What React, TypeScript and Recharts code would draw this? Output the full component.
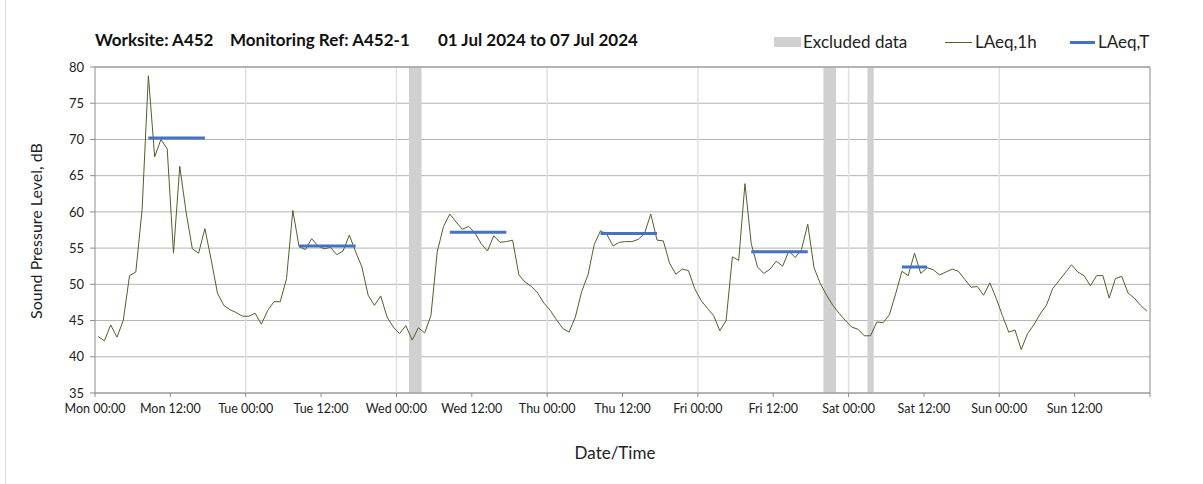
import React from "react";
import {
  ComposedChart,
  Line,
  XAxis,
  YAxis,
  CartesianGrid,
  ReferenceArea,
  ReferenceLine,
} from "recharts";

// hourly LAeq,1h values, Mon 00:00 .. Sun 23:00 (plotted at the middle of each hour)
const laeq1h = [
  42.8, 42.2, 44.4, 42.7, 45.0, 51.2, 51.7, 60.3, 78.8, 67.6, 70.0, 68.7, 54.3, 66.3, 60.0, 54.9, 54.3, 57.7, 53.4, 48.8, 47.1, 46.5, 46.1, 45.6,
  45.6, 46.0, 44.5, 46.4, 47.6, 47.6, 50.8, 60.2, 55.2, 54.8, 56.3, 55.3, 54.9, 55.1, 54.1, 54.6, 56.8, 54.5, 52.4, 48.5, 47.1, 48.4, 45.5, 44.1,
  43.2, 44.3, 42.3, 44.0, 43.3, 45.7, 54.5, 58.0, 59.7, 58.6, 57.6, 58.0, 57.1, 55.6, 54.6, 56.7, 55.8, 55.9, 56.1, 51.3, 50.3, 49.7, 48.8, 47.4,
  46.4, 45.1, 43.9, 43.4, 45.5, 49.0, 51.3, 55.5, 57.4, 56.9, 55.3, 55.8, 55.9, 55.9, 56.2, 57.0, 59.7, 56.1, 56.0, 52.9, 51.4, 52.1, 51.9, 49.4,
  47.8, 46.7, 45.7, 43.6, 45.0, 53.8, 53.3, 63.9, 55.6, 52.4, 51.5, 52.1, 53.2, 52.5, 54.6, 53.7, 54.8, 58.3, 52.3, 50.1, 48.5, 47.1, 46.0, 45.0,
  44.1, 43.8, 42.9, 42.9, 44.8, 44.7, 45.8, 48.7, 51.8, 51.2, 54.3, 51.5, 52.3, 52.0, 51.3, 51.7, 52.1, 51.8, 50.7, 49.6, 49.7, 48.5, 50.2, 48.1,
  45.7, 43.4, 43.7, 41.0, 43.2, 44.4, 45.9, 47.1, 49.4, 50.5, 51.6, 52.7, 51.7, 51.2, 49.8, 51.2, 51.2, 48.1, 50.8, 51.1, 48.8, 48.1, 47.1, 46.3,
];

// LAeq,T periods (first hour index, last hour index, level)
const periodStart = [8, 32, 56, 80, 104, 128];
const periodEnd = [17, 41, 65, 89, 113, 132];
const periodLevel = [70.2, 55.3, 57.2, 57.0, 54.5, 52.4];

// excluded data (hours from Mon 00:00)
const excludedFrom = [50, 116, 123];
const excludedTo = [52, 118, 124];

const days = ["Mon", "Tue", "Wed", "Thu", "Fri", "Sat", "Sun"];
const xTicks = [0, 12, 24, 36, 48, 60, 72, 84, 96, 108, 120, 132, 144, 156, 168];
const dayStarts = [24, 48, 72, 96, 120, 144];
const yTicks = [35, 40, 45, 50, 55, 60, 65, 70, 75, 80];

const data = laeq1h.map((v, i) => {
  let t: number | null = null;
  periodStart.forEach((s, k) => {
    if (i >= s && i <= periodEnd[k]) t = periodLevel[k];
  });
  return { h: i + 0.5, laeq: v, laeqT: t };
});

const FONT = "Lato, 'Open Sans', sans-serif";

function fmtTick(t: number) {
  if (t >= 168) return "";
  const d = days[Math.floor(t / 24)];
  return `${d} ${t % 24 === 0 ? "00:00" : "12:00"}`;
}

export default function App() {
  const titleStyle: React.CSSProperties = {
    position: "absolute",
    top: 29,
    fontSize: 17,
    fontWeight: 700,
    color: "#111",
    whiteSpace: "nowrap",
  };
  return (
    <div
      style={{
        position: "absolute",
        left: 0,
        top: 0,
        width: 1203,
        height: 484,
        background: "#fff",
        fontFamily: FONT,
        overflow: "hidden",
      }}
    >
      <div style={{ position: "absolute", left: 5, top: 0, width: 1, height: 484, background: "#d9d9d9" }} />

      {/* title */}
      <div style={{ ...titleStyle, left: 95 }}>Worksite: A452</div>
      <div style={{ ...titleStyle, left: 230 }}>Monitoring Ref: A452-1</div>
      <div style={{ ...titleStyle, left: 438 }}>01 Jul 2024 to 07 Jul 2024</div>

      {/* legend */}
      <div style={{ position: "absolute", top: 31, left: 774, fontSize: 17, color: "#222", height: 22 }}>
        <div style={{ position: "absolute", left: 0, top: 6, width: 27, height: 10, background: "#d0d0d0" }} />
        <span style={{ position: "absolute", left: 29, top: 0, whiteSpace: "nowrap" }}>Excluded data</span>
        <div style={{ position: "absolute", left: 171, top: 11, width: 27, height: 1, background: "#4f6228" }} />
        <span style={{ position: "absolute", left: 201, top: 0, whiteSpace: "nowrap" }}>LAeq,1h</span>
        <div style={{ position: "absolute", left: 296, top: 10, width: 25, height: 3, background: "#4472c4" }} />
        <span style={{ position: "absolute", left: 324, top: 0, whiteSpace: "nowrap" }}>LAeq,T</span>
      </div>

      {/* axis titles */}
      <div
        style={{
          position: "absolute",
          left: 35,
          top: 231,
          transform: "translate(-50%, -50%) rotate(-90deg)",
          fontSize: 16,
          color: "#222",
          whiteSpace: "nowrap",
        }}
      >
        Sound Pressure Level, dB
      </div>
      <div
        style={{
          position: "absolute",
          left: 615,
          top: 452,
          transform: "translate(-50%, -50%)",
          fontSize: 17,
          color: "#222",
        }}
      >
        Date/Time
      </div>

      <div style={{ position: "absolute", left: 0, top: 0 }}>
        <ComposedChart
          width={1203}
          height={484}
          data={data}
          margin={{ top: 67, right: 53, left: 35, bottom: 61 }}
        >
          {excludedFrom.map((f, i) => (
            <ReferenceArea
              key={i}
              x1={f}
              x2={excludedTo[i]}
              y1={35}
              y2={80}
              fill="#d0d0d0"
              fillOpacity={1}
              stroke="none"
            />
          ))}
          <CartesianGrid vertical={false} stroke="#b3b3b3" />
          {dayStarts.map((d) => (
            <ReferenceLine key={d} x={d} stroke="#e0e0e0" strokeWidth={1.5} />
          ))}
          <ReferenceLine x={168} stroke="#8c8c8c" />
          <ReferenceLine y={80} stroke="#8c8c8c" />
          <XAxis
            dataKey="h"
            type="number"
            domain={[0, 168]}
            ticks={xTicks}
            interval={0}
            tickFormatter={fmtTick}
            stroke="#8c8c8c"
            tickSize={4}
            tickMargin={7}
            tick={{ fontSize: 12.5, fill: "#222", fontFamily: FONT }}
            allowDataOverflow
          />
          <YAxis
            type="number"
            domain={[35, 80]}
            ticks={yTicks}
            interval={0}
            width={60}
            stroke="#8c8c8c"
            tickSize={5}
            tickMargin={6}
            tick={{ fontSize: 13, fill: "#222", fontFamily: FONT }}
            allowDataOverflow
          />
          <Line
            type="linear"
            dataKey="laeq"
            stroke="#4f6228"
            strokeWidth={1}
            dot={false}
            activeDot={false}
            isAnimationActive={false}
          />
          <Line
            type="linear"
            dataKey="laeqT"
            stroke="#4472c4"
            strokeWidth={3}
            dot={false}
            activeDot={false}
            connectNulls={false}
            isAnimationActive={false}
          />
        </ComposedChart>
      </div>
    </div>
  );
}
